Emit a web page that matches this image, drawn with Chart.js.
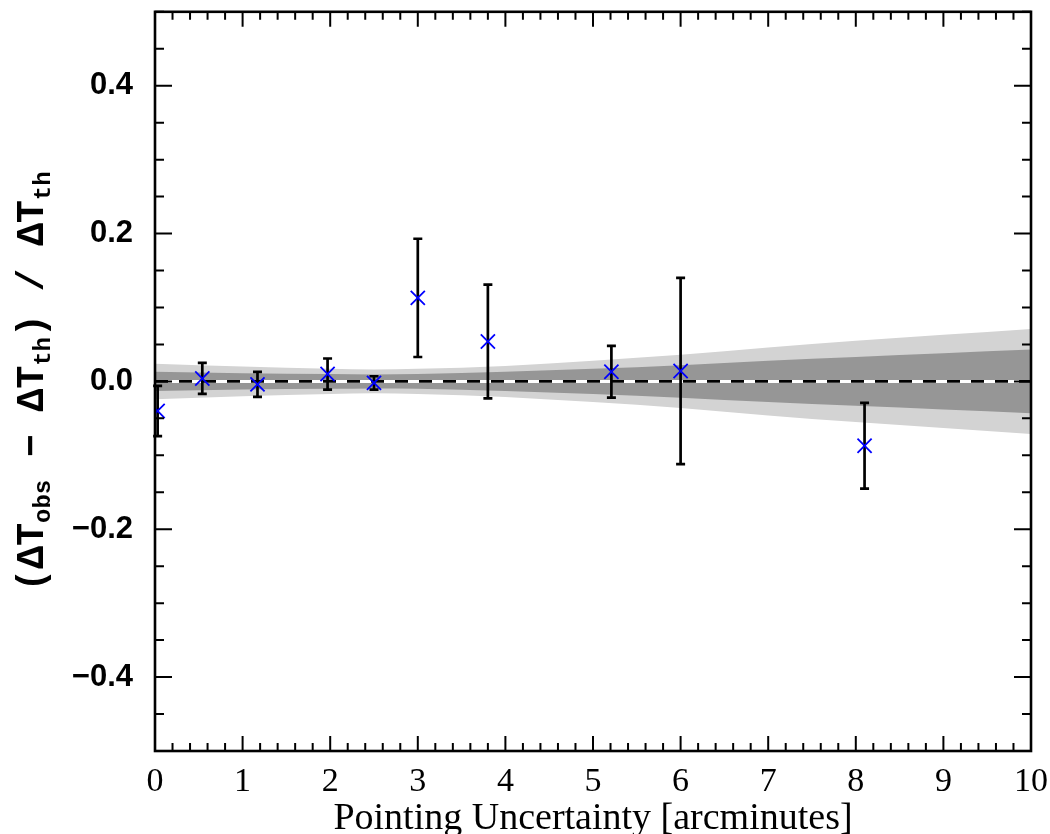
<!DOCTYPE html>
<html>
<head>
<meta charset="utf-8">
<script src="https://cdn.jsdelivr.net/npm/chart.js@4.4.0/dist/chart.umd.min.js"></script>
<style>
	html, body { margin: 0; padding: 0; background: #fff; }
	#wrap { width: 1050px; height: 834px; }
</style>
</head>
<body>
<div id="wrap"><canvas id="myChart" width="1050" height="834"></canvas></div>
<script>
// measured points with 1 sigma errors
const pointX = [0.03, 0.54, 1.17, 1.97, 2.50, 3.00, 3.80, 5.21, 6.00, 8.10];
const pointY = [-0.040, 0.004, -0.004, 0.010, -0.002, 0.113, 0.054, 0.013, 0.014, -0.087];
const pointErr = [0.034, 0.021, 0.017, 0.021, 0.009, 0.080, 0.077, 0.035, 0.126, 0.058];

// grey bands around zero (half widths)
const bandX = [0, 1, 2, 2.5, 3, 4, 5, 6, 7, 8, 9, 10];
const bandInner = [0.013, 0.011, 0.010, 0.0095, 0.010, 0.013, 0.017, 0.022, 0.028, 0.033, 0.038, 0.043];
const bandOuter = [0.024, 0.020, 0.017, 0.016, 0.017, 0.021, 0.028, 0.036, 0.046, 0.055, 0.063, 0.071];

const zeroLineX = [0, 10];
const yTickValues = [-0.4, -0.2, 0, 0.2, 0.4];

const xTitle = "Pointing Uncertainty [arcminutes]";
// y title pieces: [text, isSubscript]
const yTitle = [["(\u0394T", false], ["obs", true], [" \u2212 \u0394T", false], ["th", true], [") / \u0394T", false], ["th", true]];

const toXY = (xs, ys) => xs.map((x, i) => ({ x: x, y: ys[i] }));
const plus = (arr) => arr.map((v) => v);
const minus = (arr) => arr.map((v) => -v);

const noPad = (s) => {
	s.paddingTop = 0;
	s.paddingBottom = 0;
	s.paddingLeft = 0;
	s.paddingRight = 0;
};

const axisPlugin = {
	id: "idlAxes",
	afterDatasetDraw(chart, args) {
		if (args.index !== 1) return;
		const ctx = chart.ctx;
		const xs = chart.scales.x;
		const ys = chart.scales.y;
		ctx.save();
		ctx.strokeStyle = "#000";
		ctx.lineWidth = 2.7;
		pointX.forEach((x, i) => {
			const px = xs.getPixelForValue(x);
			const top = ys.getPixelForValue(pointY[i] + pointErr[i]);
			const bot = ys.getPixelForValue(pointY[i] - pointErr[i]);
			ctx.beginPath();
			ctx.moveTo(px, top);
			ctx.lineTo(px, bot);
			ctx.moveTo(px - 4.5, top);
			ctx.lineTo(px + 4.5, top);
			ctx.moveTo(px - 4.5, bot);
			ctx.lineTo(px + 4.5, bot);
			ctx.stroke();
		});
		ctx.restore();
	},
	afterDraw(chart) {
		const ctx = chart.ctx;
		const a = chart.chartArea;
		const xs = chart.scales.x;
		const ys = chart.scales.y;
		ctx.save();
		ctx.strokeStyle = "#000";
		ctx.lineWidth = 2;
		ctx.beginPath();
		for (let k = 0; k <= 50; k++) {
			const v = k * 0.2;
			const px = xs.getPixelForValue(v);
			const len = k % 5 === 0 ? 15 : 8;
			ctx.moveTo(px, a.bottom);
			ctx.lineTo(px, a.bottom - len);
			ctx.moveTo(px, a.top);
			ctx.lineTo(px, a.top + len);
		}
		for (let k = -10; k <= 10; k++) {
			const v = k * 0.05;
			const py = ys.getPixelForValue(v);
			const len = k % 4 === 0 ? 17 : 9;
			ctx.moveTo(a.left, py);
			ctx.lineTo(a.left + len, py);
			ctx.moveTo(a.right, py);
			ctx.lineTo(a.right - len, py);
		}
		ctx.stroke();
		ctx.lineWidth = 2.6;
		ctx.strokeRect(a.left, a.top, a.right - a.left, a.bottom - a.top);

		// x title
		ctx.fillStyle = "#000";
		ctx.font = "38px 'Liberation Serif'";
		ctx.textAlign = "center";
		ctx.textBaseline = "alphabetic";
		ctx.fillText(xTitle, (a.left + a.right) / 2, 829);

		// y title, rotated with subscripts
		const mainFont = "bold 38px 'Liberation Mono'";
		const subFont = "bold 24px 'Liberation Mono'";
		let total = 0;
		yTitle.forEach(([t, sub]) => {
			ctx.font = sub ? subFont : mainFont;
			total += ctx.measureText(t).width;
		});
		ctx.translate(43, (a.top + a.bottom) / 2);
		ctx.rotate(-Math.PI / 2);
		ctx.textAlign = "left";
		let cx = -total / 2;
		yTitle.forEach(([t, sub]) => {
			ctx.font = sub ? subFont : mainFont;
			ctx.fillText(t, cx, sub ? 7 : 0);
			cx += ctx.measureText(t).width;
		});
		ctx.restore();
	},
};

const myChart = new Chart(document.getElementById("myChart"), {
	type: "line",
	data: {
		datasets: [
			{
				type: "scatter",
				data: toXY(pointX, pointY),
				showLine: false,
				pointStyle: "crossRot",
				pointRadius: 10,
				pointBorderColor: "#0000ff",
				pointBorderWidth: 1.8,
				pointBackgroundColor: "#0000ff",
				clip: 0,
				order: 0,
			},
			{
				data: toXY(zeroLineX, [0, 0]),
				borderColor: "#000",
				borderWidth: 2.8,
				borderDash: [13, 11],
				pointRadius: 0,
				fill: false,
				order: 1,
			},
			{
				data: toXY(zeroLineX, [0, 0]),
				borderColor: "#fff",
				borderWidth: 3,
				pointRadius: 0,
				fill: false,
				order: 2,
			},
			{
				data: toXY(bandX, plus(bandInner)),
				borderWidth: 0,
				pointRadius: 0,
				cubicInterpolationMode: "monotone",
				backgroundColor: "#969696",
				fill: "+1",
				order: 3,
			},
			{
				data: toXY(bandX, minus(bandInner)),
				borderWidth: 0,
				pointRadius: 0,
				cubicInterpolationMode: "monotone",
				fill: false,
				order: 4,
			},
			{
				data: toXY(bandX, plus(bandOuter)),
				borderWidth: 0,
				pointRadius: 0,
				cubicInterpolationMode: "monotone",
				backgroundColor: "#d3d3d3",
				fill: "+1",
				order: 5,
			},
			{
				data: toXY(bandX, minus(bandOuter)),
				borderWidth: 0,
				pointRadius: 0,
				cubicInterpolationMode: "monotone",
				fill: false,
				order: 6,
			},
		],
	},
	options: {
		responsive: false,
		animation: false,
		layout: { padding: { top: 6, right: 19, left: 0, bottom: 0 } },
		plugins: {
			legend: { display: false },
			tooltip: { enabled: false },
		},
		scales: {
			x: {
				type: "linear",
				min: 0,
				max: 10,
				grid: { display: false },
				border: { display: false },
				ticks: {
					stepSize: 1,
					maxRotation: 0,
					padding: 3,
					color: "#000",
					font: { family: "'Liberation Serif'", size: 34 },
				},
				afterFit: (s) => { s.height = 83; noPad(s); },
			},
			y: {
				type: "linear",
				min: -0.5,
				max: 0.5,
				grid: { display: false },
				border: { display: false },
				afterBuildTicks: (s) => { s.ticks = yTickValues.map((v) => ({ value: v })); },
				ticks: {
					padding: 14,
					color: "#000",
					font: { family: "'Liberation Sans'", size: 31, weight: "bold" },
					callback: (v) => (v < 0 ? "\u2212" : "") + Math.abs(v).toFixed(1),
				},
				afterFit: (s) => { s.width = 155; noPad(s); },
			},
		},
	},
	plugins: [axisPlugin],
});
</script>
</body>
</html>
